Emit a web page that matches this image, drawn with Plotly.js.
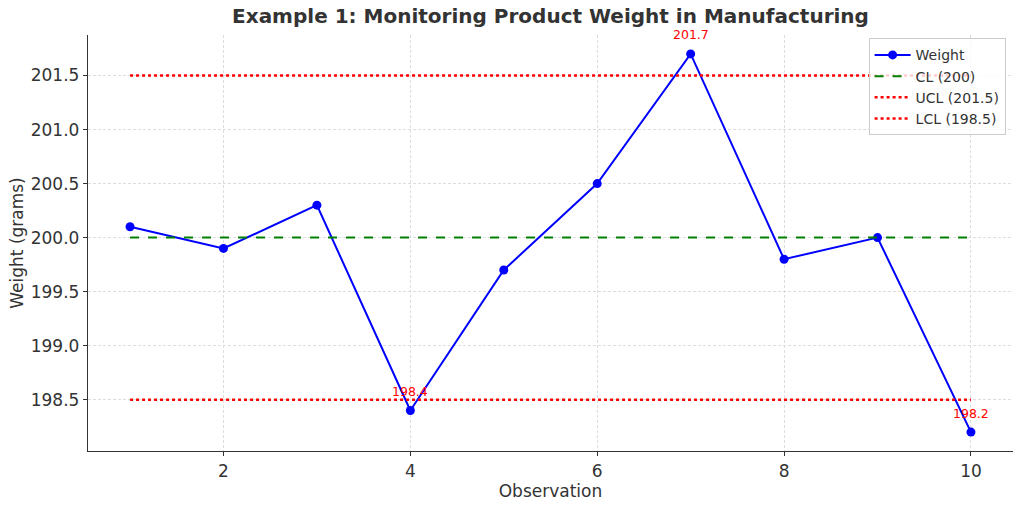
<!DOCTYPE html>
<html>
<head>
<meta charset="utf-8">
<script src="https://cdn.plot.ly/plotly-3.0.1.min.js"></script>
<style>html,body{margin:0;padding:0;background:#fff;}#chart{width:1024px;height:507px;}</style>
</head>
<body>
<div id="chart"></div>
<script>
const observations = [1, 2, 3, 4, 5, 6, 7, 8, 9, 10];
const weights = [200.1, 199.9, 200.3, 198.4, 199.7, 200.5, 201.7, 199.8, 200.0, 198.2];
const CL = 200;
const UCL = 201.5;
const LCL = 198.5;
const xTicks = [2, 4, 6, 8, 10];
const yTicks = [198.5, 199.0, 199.5, 200.0, 200.5, 201.0, 201.5];
const yTickLabels = ['198.5', '199.0', '199.5', '200.0', '200.5', '201.0', '201.5'];

const font = 'DejaVu Sans, sans-serif';
const xs = observations;
const traces = [
  {x: xs, y: weights, type: 'scatter', mode: 'lines+markers', name: 'Weight',
   line: {color: 'blue', width: 2}, marker: {color: 'blue', size: 9}},
  {x: xs, y: xs.map(() => CL), type: 'scatter', mode: 'lines', name: 'CL (200)',
   line: {color: 'green', width: 2, dash: 'dash'}},
  {x: xs, y: xs.map(() => UCL), type: 'scatter', mode: 'lines', name: 'UCL (201.5)',
   line: {color: 'red', width: 2.5, dash: 'dot'}},
  {x: xs, y: xs.map(() => LCL), type: 'scatter', mode: 'lines', name: 'LCL (198.5)',
   line: {color: 'red', width: 2.5, dash: 'dot'}}
];

const annotations = [];
observations.forEach((o, i) => {
  const w = weights[i];
  if (w > UCL || w < LCL) {
    annotations.push({x: o, y: w, xref: 'x', yref: 'y', text: String(w), showarrow: false,
      yanchor: 'middle', yshift: 19, font: {family: font, size: 12.5, color: 'red'}});
  }
});

const gridStyle = {showgrid: true, gridcolor: '#d4d4d4', griddash: '3px,2px', gridwidth: 0.8};

const layout = {
  width: 1024, height: 507,
  margin: {l: 88, r: 11, t: 35, b: 56},
  paper_bgcolor: '#fff', plot_bgcolor: '#fff',
  font: {family: font, color: '#333'},
  title: {text: '<b>Example 1: Monitoring Product Weight in Manufacturing</b>',
    font: {family: font, size: 20, color: '#333'}, xref: 'paper', x: 0.5, xanchor: 'center',
    yref: 'container', y: 0.968, yanchor: 'middle'},
  xaxis: Object.assign({
    title: {text: 'Observation', font: {family: font, size: 17, color: '#333'}, standoff: 0},
    range: [0.55, 10.45], tickvals: xTicks, ticktext: xTicks.map(String),
    showline: true, linecolor: '#333', linewidth: 1.2, ticks: 'outside', ticklen: 4, tickcolor: '#333',
    tickfont: {family: font, size: 17, color: '#333'}, zeroline: false, automargin: false
  }, gridStyle),
  yaxis: Object.assign({
    title: {text: 'Weight (grams)', font: {family: font, size: 17, color: '#333'}, standoff: 2},
    range: [198.025, 201.875], tickvals: yTicks, ticktext: yTickLabels,
    showline: true, linecolor: '#333', linewidth: 1.2, ticks: 'outside', ticklen: 4, tickcolor: '#333',
    tickfont: {family: font, size: 17, color: '#333'}, zeroline: false, automargin: false
  }, gridStyle),
  legend: {x: 0.992, y: 0.992, xanchor: 'right', yanchor: 'top',
    bgcolor: 'rgba(255,255,255,0.8)', bordercolor: '#ccc', borderwidth: 1,
    font: {family: font, size: 14, color: '#333'}, tracegroupgap: 0, itemwidth: 36},
  annotations: annotations,
  showlegend: true
};

Plotly.newPlot('chart', traces, layout, {displayModeBar: false, staticPlot: true});
</script>
</body>
</html>
